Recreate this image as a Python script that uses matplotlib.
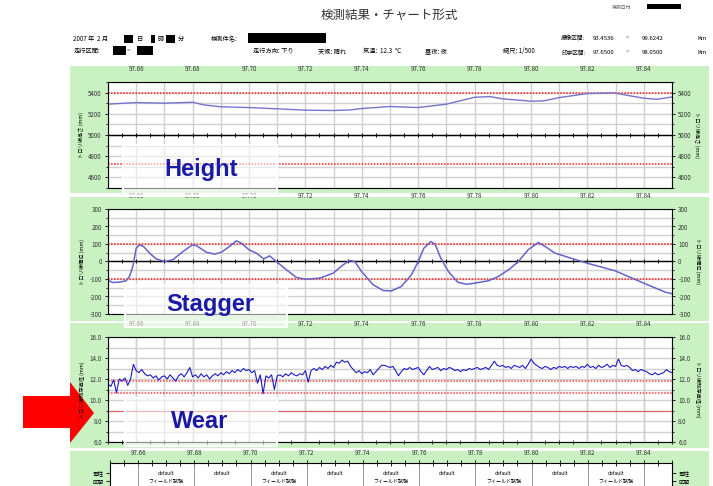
import numpy as np
import matplotlib
matplotlib.use("Agg")
import matplotlib.pyplot as plt
from matplotlib.patches import Rectangle, Polygon
from matplotlib.ticker import MultipleLocator, FormatStrFormatter

plt.rcParams['font.family'] = ['Noto Sans CJK JP', 'DejaVu Sans']

W, H = 713, 486

# kilometre marks shown along every chart
km_ticks = [97.66, 97.68, 97.70, 97.72, 97.74, 97.76, 97.78, 97.80, 97.82, 97.84]

# contact wire height (mm)
height_km = [97.650, 97.660, 97.670, 97.680, 97.684, 97.690, 97.700, 97.710, 97.720,
             97.730, 97.736, 97.740, 97.750, 97.760, 97.770, 97.780, 97.7855, 97.790,
             97.800, 97.8045, 97.810, 97.820, 97.8295, 97.834, 97.840, 97.8447, 97.850]
height_mm = [5291, 5306, 5300, 5309, 5284, 5266, 5259, 5247, 5234,
             5231, 5237, 5250, 5269, 5259, 5291, 5356, 5362, 5341,
             5319, 5322, 5353, 5391, 5397, 5375, 5347, 5337, 5359]
height_limits = [5400, 4730]

# contact wire stagger (mm)
stagger_km = [97.6497, 97.6517, 97.6541, 97.6564, 97.6576, 97.6588, 97.6600, 97.6612,
              97.6626, 97.6647, 97.6671, 97.6701, 97.6730, 97.6766, 97.6799, 97.6813,
              97.6849, 97.6878, 97.6902, 97.6931, 97.6955, 97.6973, 97.7000, 97.7026,
              97.7052, 97.7073, 97.7097, 97.7133, 97.7168, 97.7201, 97.7251, 97.7298,
              97.7334, 97.7357, 97.7375, 97.7399, 97.7440, 97.7476, 97.7505, 97.7540,
              97.7576, 97.7600, 97.7620, 97.7645, 97.7660, 97.7680, 97.7707, 97.7740,
              97.7770, 97.7800, 97.7849, 97.7884, 97.7925, 97.7955, 97.7990, 97.8026,
              97.8050, 97.8085, 97.8130, 97.8200, 97.8298, 97.8400, 97.8476, 97.8508]
stagger_mm = [-105, -120, -118, -110, -86, -29, 76, 95,
              86, 48, 15, 0, 10, 57, 95, 91,
              53, 42, 53, 86, 118, 105, 67, 48,
              15, 32, 0, -48, -91, -101, -95, -67,
              -19, 6, 0, -57, -133, -166, -168, -143,
              -76, 0, 76, 114, 99, 19, -57, -118,
              -130, -124, -110, -86, -42, 0, 67, 109,
              86, 48, 25, -10, -53, -124, -175, -187]
stagger_limits = [100, -100]

# remaining wire diameter (mm), one reading per metre from 97.650 km
wear_mm = [
    11.5, 11.3, 11.9, 10.7, 12.0, 11.8, 12.1, 11.4, 12.0, 13.4,
    12.8, 12.6, 12.9, 12.5, 12.3, 12.4, 12.1, 12.3, 11.9, 12.2,
    12.3, 12.0, 12.4, 12.1, 11.8, 12.3, 12.5, 12.2, 12.6, 13.1,
    12.2, 12.4, 12.1, 12.5, 12.2, 12.4, 12.0, 12.3, 12.5, 12.3,
    12.6, 12.4, 12.7, 12.5, 12.8, 12.6, 12.9, 12.7, 13.0, 12.8,
    12.9, 12.6, 12.8, 11.6, 12.4, 10.6, 12.3, 12.1, 12.4, 11.0,
    12.3, 12.4, 12.2, 12.5, 12.3, 12.6, 12.4, 12.3, 12.5, 12.4,
    12.8, 11.7, 12.8, 13.0, 12.8, 13.1, 12.9, 13.2, 13.0, 13.3,
    13.1, 13.6, 13.5, 13.8, 13.6, 13.7, 13.2, 12.9, 12.6, 12.8,
    12.5, 12.7, 12.6, 12.9, 12.4, 12.7, 13.0, 13.3, 13.3, 13.2,
    13.1, 13.2, 12.8, 12.3, 12.7, 13.0, 12.9, 13.1, 12.9, 13.0,
    13.1, 12.7, 12.4, 12.8, 13.2, 12.9, 13.0, 13.1, 12.8, 13.0,
    12.9, 13.1, 13.0, 12.8, 12.9, 12.7, 12.9, 12.8, 13.0, 12.9,
    13.0, 13.1, 12.9, 13.0, 13.1, 12.9, 13.3, 13.7, 13.3, 13.2,
    13.3, 13.1, 13.2, 13.0, 13.3, 13.2, 13.1, 13.3, 13.0, 13.4,
    13.9, 13.5, 13.3, 13.1, 13.0, 13.2, 13.1, 12.9, 13.1, 13.0,
    13.2, 13.1, 13.2, 13.0, 13.2, 13.1, 13.2, 13.0, 13.2, 13.1,
    13.4, 13.1, 13.2, 13.0, 13.3, 13.1, 13.2, 13.4, 13.1, 13.3,
    13.2, 13.9, 13.3, 13.2, 13.3, 13.1, 12.8, 12.9, 12.7, 12.9,
    12.8, 12.7, 12.5, 12.4, 12.6, 12.4, 12.5, 12.6, 12.9, 12.7,
    12.6]
wear_km = np.linspace(97.65, 97.85, len(wear_mm))
wear_limits = [11.8, 10.7]
wear_min = 9.0

# pole sections between the km marks
section_labels = ["default\nフィールド試験", "default"] * 4 + ["default\nフィールド試験"]

GREEN = '#c9f1c2'
GRID = '#cfcfcf'
NAVY = '#1a1aa6'


def box(x0, y0, x1, y1):
    # pixel box (top-left origin) -> figure fraction rect
    return [x0 / W, 1 - y1 / H, (x1 - x0) / W, (y1 - y0) / H]


def rect(x0, y0, x1, y1, **kw):
    r = Rectangle((x0 / W, 1 - y1 / H), (x1 - x0) / W, (y1 - y0) / H,
                  transform=fig.transFigure, **kw)
    fig.add_artist(r)
    return r


def txt(x, y, s, **kw):
    kw.setdefault('fontsize', 4.5)
    kw.setdefault('va', 'center')
    return fig.text(x / W, 1 - y / H, s, **kw)


fig = plt.figure(figsize=(W / 100, H / 100), dpi=100)
fig.patch.set_facecolor('white')

# ---- header ----
txt(389, 15, '検測結果・チャート形式', fontsize=9, ha='center', color='#333333')
txt(612, 7, '検測日付', fontsize=3.5, color='#555555')
rect(647, 4, 681, 9, facecolor='black', edgecolor='none')

txt(73, 39, '2007 年  2 月')
rect(124, 35, 133, 43, facecolor='black', edgecolor='none')
txt(137, 39, '日')
rect(151, 35, 155, 43, facecolor='black', edgecolor='none')
txt(157, 39, '時')
rect(166, 35, 175, 43, facecolor='black', edgecolor='none')
txt(178, 39, '分')
txt(211, 39, '検測件名:')
rect(248, 33, 326, 43, facecolor='black', edgecolor='none')

txt(74, 51, '走行区間:')
rect(113, 46, 126, 55, facecolor='black', edgecolor='none')
txt(127, 51, '~')
rect(137, 46, 153, 55, facecolor='black', edgecolor='none')
txt(253, 51, '走行方向: 下り')
txt(318, 51, '天候: 晴れ')
txt(363, 51, '気温:  12.3  ℃')
txt(425, 51, '昼夜: 夜')
txt(503, 51, '縮尺: 1/500')

txt(561, 38, '撮像区間:', fontsize=4.1)
txt(593, 38, '93.4536', fontsize=4.3)
txt(626, 38, '~', fontsize=4.3)
txt(642, 38, '99.6242', fontsize=4.3)
txt(697, 38, 'Km', fontsize=4.3)
txt(561, 52, '印字区間:', fontsize=4.1)
txt(593, 52, '97.6500', fontsize=4.3)
txt(626, 52, '~', fontsize=4.3)
txt(642, 52, '98.0500', fontsize=4.3)
txt(697, 52, 'Km', fontsize=4.3)

# ---- green panels ----
for y0, y1 in [(66, 193), (197, 321), (323, 448), (451, 486)]:
    rect(70, y0, 709, y1, facecolor=GREEN, edgecolor='none', zorder=-5)

# red arrow pointing at the wear chart
arrow = Polygon([(23 / W, 1 - 396 / H), (70 / W, 1 - 396 / H), (70 / W, 1 - 382 / H),
                 (94 / W, 1 - 413 / H), (70 / W, 1 - 443 / H), (70 / W, 1 - 428 / H),
                 (23 / W, 1 - 428 / H)], closed=True, transform=fig.transFigure,
                facecolor='#ff0000', edgecolor='none', zorder=-2)
fig.add_artist(arrow)


def chart(y0, y1, ylim, major, minor, fmt, label):
    ax = fig.add_axes(box(108, y0, 672, y1))
    ax.set_facecolor('white')
    ax.set_xlim(97.65, 97.85)
    ax.set_ylim(*ylim)
    ax.set_xticks(km_ticks)
    ax.set_xticklabels([f'{k:.2f}' for k in km_ticks])
    ax.xaxis.set_minor_locator(MultipleLocator(0.01))
    ax.yaxis.set_major_locator(MultipleLocator(major))
    ax.yaxis.set_minor_locator(MultipleLocator(minor))
    ax.yaxis.set_major_formatter(FormatStrFormatter(fmt))
    ax.grid(True, which='both', color=GRID, lw=1.0)
    ax.set_axisbelow(True)
    ax.tick_params(axis='x', which='both', top=False, bottom=False,
                   labeltop=True, labelbottom=False, pad=3, labelsize=4.5,
                   labelcolor='#333333')
    ax.tick_params(axis='y', which='both', left=True, right=True, labelright=True,
                   direction='out', length=2.5, width=0.6, labelsize=4.5, pad=2,
                   labelcolor='#333333')
    ax.tick_params(axis='y', which='minor', length=1.5)
    for s in ax.spines.values():
        s.set_color('black')
        s.set_linewidth(0.8)
    ax.set_ylabel(label, fontsize=3.8, labelpad=3)
    ax.text(1.045, 0.5, label, transform=ax.transAxes, rotation=270,
            fontsize=3.8, ha='center', va='center')
    return ax


marks = np.arange(97.65, 97.8501, 0.005)

# ---- height ----
ax1 = chart(82, 188, (4500, 5500), 200, 100, '%d', 'トロリ線高さ (mm)')
ax1.axhline(5000, color='black', lw=1.0)
ax1.plot(marks, [5000] * len(marks), ls='none', marker='|', ms=2.5, mew=0.7, color='black')
for v in height_limits:
    ax1.axhline(v, color='#ff1a1a', lw=1.1, ls=(0, (1, 1)))
ax1.plot(height_km, height_mm, color='#7474cc', lw=1.0)

# ---- stagger ----
ax2 = chart(209, 314, (-300, 300), 100, 50, '%d', 'トロリ線偏位 (mm)')
ax2.axhline(0, color='black', lw=1.0)
ax2.plot(marks, [0] * len(marks), ls='none', marker='|', ms=2.5, mew=0.7, color='black')
for v in stagger_limits:
    ax2.axhline(v, color='#ff1a1a', lw=1.1, ls=(0, (1, 1)))
ax2.plot(stagger_km, stagger_mm, color='#6464c8', lw=1.1)

# ---- wear ----
ax3 = chart(337, 442, (6, 16), 2, 1, '%.1f', 'トロリ線残存直径 (mm)')
ax3.set_xticks(marks, minor=True)
ax3.tick_params(axis='x', which='minor', bottom=True, direction='inout', length=3, width=0.6)
ax3.grid(True, which='minor', axis='x', color='none')
for k in np.arange(97.65, 97.851, 0.01):
    ax3.axvline(k, color=GRID, lw=1.0, zorder=0.5)
for v in wear_limits:
    ax3.axhline(v, color='#ff4040', lw=1.1, ls=(0, (1, 1)))
ax3.axhline(wear_min, color='#e06060', lw=0.8)
ax3.plot(wear_km, wear_mm, color='#1c1cc8', lw=0.8)

# ---- pole section strip ----
ax4 = fig.add_axes(box(110, 463, 672, 486))
ax4.set_xlim(97.65, 97.85)
ax4.set_ylim(0, 1)
ax4.set_xticks(km_ticks)
ax4.set_xticklabels([f'{k:.2f}' for k in km_ticks])
ax4.set_xticks(marks, minor=True)
ax4.tick_params(axis='x', which='both', top=True, bottom=False, labeltop=True,
                labelbottom=False, direction='inout', length=4, width=0.6,
                labelsize=4.5, pad=2, labelcolor='#333333')
ax4.set_yticks([0.565, 0.217])
ax4.set_yticklabels(['電柱', '区間'])
ax4.tick_params(axis='y', left=True, right=True, labelright=True, direction='out',
                length=3, width=0.6, labelsize=4.0, pad=1.5)
ax4.spines['bottom'].set_visible(False)
for s in ax4.spines.values():
    s.set_linewidth(0.8)
for k in km_ticks:
    ax4.axvline(k, color='#888888', lw=0.6)
for a, b, lab in zip(km_ticks[:-1], km_ticks[1:], section_labels):
    lines = lab.split('\n')
    ax4.text((a + b) / 2, 0.565, lines[0], fontsize=3.6, ha='center', va='center')
    if len(lines) > 1:
        ax4.text((a + b) / 2, 0.217, lines[1], fontsize=3.6, ha='center', va='center')

# ---- white caption boxes ----
for (x0, y0, x1, y1), word, (tx, ty) in [
        ((123, 145, 277, 196), 'Height', (201, 169)),
        ((125, 285, 287, 327), 'Stagger', (210, 304)),
        ((125, 398, 277, 446), 'Wear', (200, 421))]:
    rect(x0, y0, x1, y1, facecolor=(1, 1, 1, 0.55), edgecolor='white', lw=1.5, zorder=10)
    txt(tx, ty, word, fontsize=17, fontweight='bold', color=NAVY, ha='center',
        family='Liberation Sans', zorder=11)

fig.savefig('out.png', dpi=100)
